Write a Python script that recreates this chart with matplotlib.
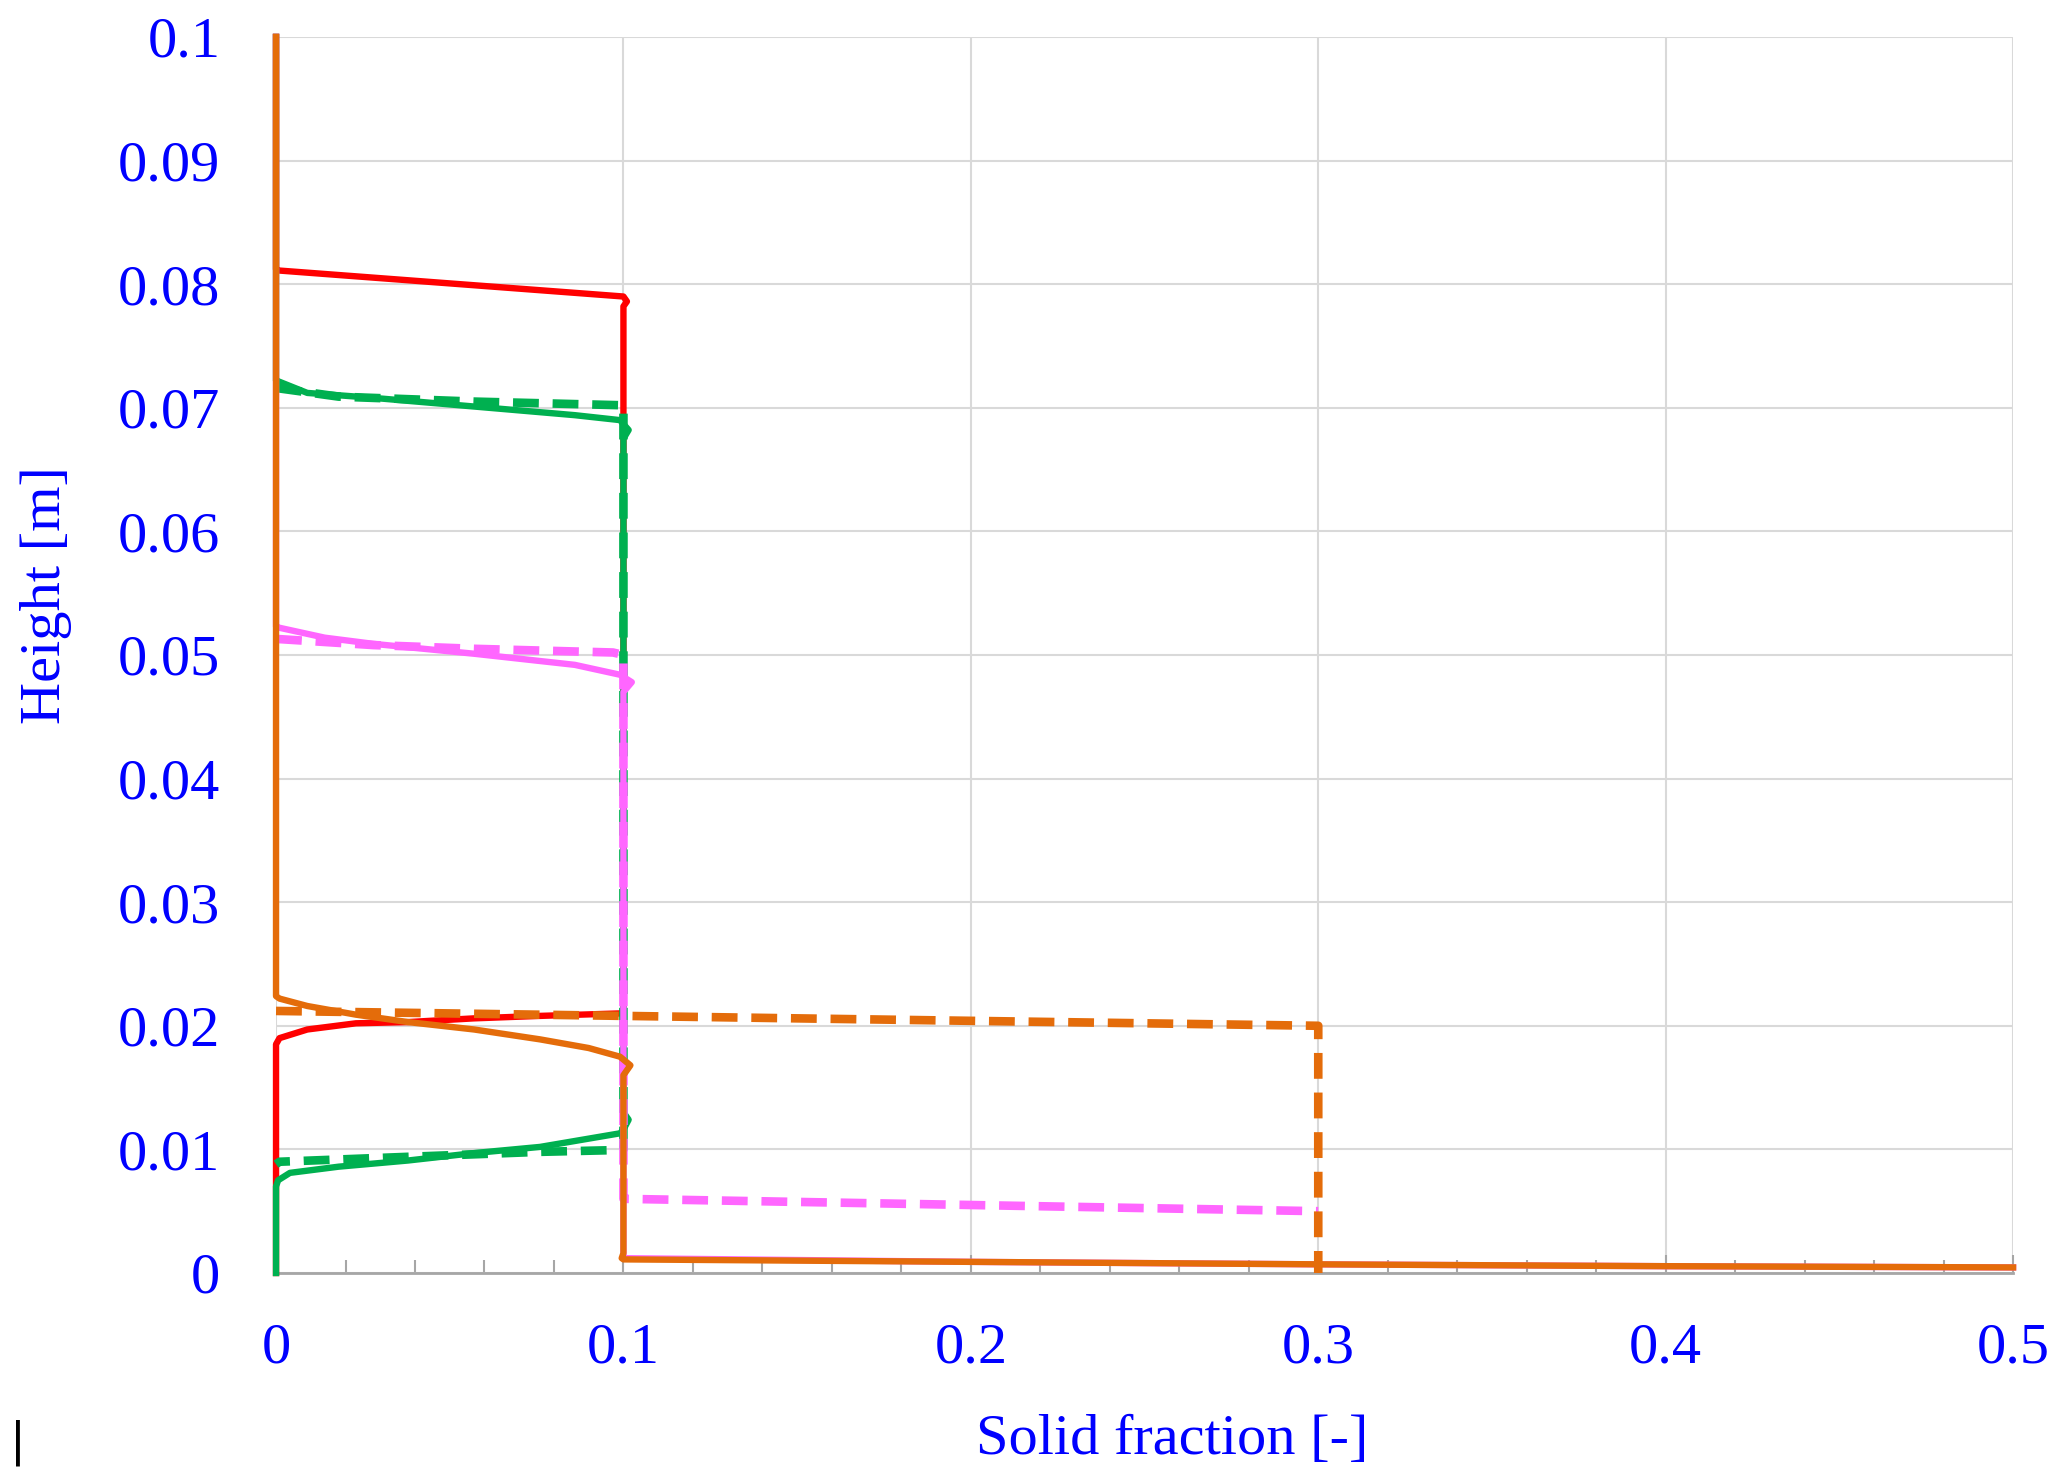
import numpy as np
import matplotlib
matplotlib.use("Agg")
import matplotlib.pyplot as plt
from matplotlib.ticker import MultipleLocator

# --- data (solid fraction vs height) ---
red_x = [0, 0, 0.001, 0.1, 0.101, 0.1, 0.1, 0.099, 0.076, 0.057, 0.038, 0.023, 0.009, 0.001, 0, 0]
red_y = [0.1, 0.0812, 0.0811, 0.0790, 0.0786, 0.0782, 0.0212, 0.0210, 0.0208, 0.0206,
         0.0203, 0.0202, 0.0197, 0.0190, 0.0185, 0.0]

green_x = [0, 0, 0.001, 0.009, 0.028, 0.057, 0.086, 0.099, 0.1015, 0.1, 0.1, 0.1015, 0.1,
           0.099, 0.076, 0.057, 0.038, 0.018, 0.004, 0.0006, 0, 0]
green_y = [0.1, 0.0722, 0.0721, 0.0712, 0.0708, 0.0701, 0.0694, 0.0690, 0.0682, 0.0675,
           0.0130, 0.0124, 0.0116, 0.0113, 0.0102, 0.0097, 0.0091, 0.0086, 0.0081, 0.0075, 0.0070, 0.0]

green_dash_x = [0.0, 0.018, 0.057, 0.1, 0.1, 0.099, 0.076, 0.038, 0.001, 0]
green_dash_y = [0.0716, 0.0709, 0.0705, 0.0702, 0.0100, 0.00995, 0.0098, 0.0094, 0.0090, 0.0088]

pink_x = [0, 0, 0.001, 0.014, 0.028, 0.057, 0.086, 0.099, 0.1024, 0.1, 0.1, 0.2, 0.3, 0.4, 0.5]
pink_y = [0.1, 0.0523, 0.0522, 0.0514, 0.0509, 0.0501, 0.0492, 0.0484, 0.0478, 0.0470, 0.0012,
          0.0009, 0.0007, 0.00055, 0.00045]

pink_dash_x = [0.0, 0.028, 0.057, 0.097, 0.1, 0.1, 0.3]
pink_dash_y = [0.0513, 0.0508, 0.0505, 0.0502, 0.0500, 0.0060, 0.0050]

orange_x = [0, 0, 0.001, 0.009, 0.023, 0.038, 0.057, 0.076, 0.090, 0.099, 0.102, 0.1, 0.1,
            0.0995, 0.1, 0.2, 0.3, 0.4, 0.5]
orange_y = [0.1, 0.0224, 0.0222, 0.0216, 0.0209, 0.0203, 0.0197, 0.0189, 0.0182, 0.0175,
            0.0168, 0.0160, 0.0016, 0.0012, 0.0011, 0.0009, 0.0007, 0.00055, 0.00045]

orange_dash_x = [0.0, 0.1, 0.2, 0.3, 0.3]
orange_dash_y = [0.0212, 0.0208, 0.0204, 0.0200, 0.0]

x_ticks = [0, 0.1, 0.2, 0.3, 0.4, 0.5]
x_tick_labels = ["0", "0.1", "0.2", "0.3", "0.4", "0.5"]
y_ticks = [0, 0.01, 0.02, 0.03, 0.04, 0.05, 0.06, 0.07, 0.08, 0.09, 0.1]
y_tick_labels = ["0", "0.01", "0.02", "0.03", "0.04", "0.05", "0.06", "0.07", "0.08", "0.09", "0.1"]

RED = "#ff0000"
GREEN = "#00b050"
PINK = "#ff66ff"
ORANGE = "#e46c0a"
BLUE = "#0000ff"
FONT = "Liberation Serif"

fig = plt.figure(figsize=(20.63, 14.72), dpi=100)
ax = fig.add_axes([0.1338, 0.1352, 0.842, 0.8397])

lw_solid = 4.6
lw_dash = 6.2
dash = [3.0, 1.6]

ax.plot(red_x, red_y, color=RED, lw=lw_solid, clip_on=False, zorder=3)
ax.plot(green_x, green_y, color=GREEN, lw=lw_solid, clip_on=False, zorder=4)
l, = ax.plot(green_dash_x, green_dash_y, color=GREEN, lw=lw_dash, clip_on=False, zorder=4)
l.set_dashes(dash)
l, = ax.plot(pink_dash_x, pink_dash_y, color=PINK, lw=lw_dash, clip_on=False, zorder=5)
l.set_dashes(dash)
ax.plot(pink_x, pink_y, color=PINK, lw=lw_solid, clip_on=False, zorder=5)
l, = ax.plot(orange_dash_x, orange_dash_y, color=ORANGE, lw=lw_dash, clip_on=False, zorder=6)
l.set_dashes(dash)
ax.plot(orange_x, orange_y, color=ORANGE, lw=lw_solid, clip_on=False, zorder=7)

ax.set_xlim(0, 0.5)
ax.set_ylim(0, 0.1)
ax.set_xticks(x_ticks)
ax.set_xticklabels(x_tick_labels)
ax.set_yticks(y_ticks)
ax.set_yticklabels(y_tick_labels)
ax.xaxis.set_minor_locator(MultipleLocator(0.02))

ax.grid(True, which="major", color="#d9d9d9", lw=1.5, zorder=0)
ax.set_axisbelow(True)

for side in ["top", "right", "left"]:
    ax.spines[side].set_visible(False)
ax.spines["bottom"].set_color("#a6a6a6")
ax.spines["bottom"].set_linewidth(2)

ax.tick_params(axis="x", which="major", direction="in", length=13, width=1.5,
               color="#a6a6a6", pad=36, labelsize=42, labelcolor=BLUE)
ax.tick_params(axis="x", which="minor", direction="in", length=9.5, width=1.5, color="#a6a6a6")
ax.tick_params(axis="y", length=0, pad=40, labelsize=42, labelcolor=BLUE)
for lab in ax.get_xticklabels() + ax.get_yticklabels():
    lab.set_fontfamily(FONT)

fig.text(0.568, 0.0125, "Solid fraction [-]", fontsize=42, color=BLUE, family=FONT,
         ha="center", va="baseline")
fig.text(0.0223, 0.596, "Height [m]", fontsize=42, color=BLUE, family=FONT,
         ha="center", va="center", rotation=90)
fig.text(0.0085, 0.02, "|", fontsize=34, color="black", family="DejaVu Sans",
         ha="center", va="center")

fig.savefig("out.png", dpi=100)
